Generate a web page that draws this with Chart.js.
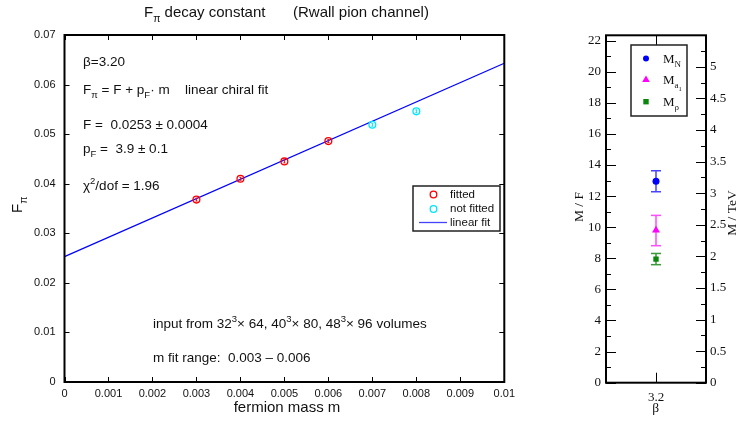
<!doctype html>
<html lang="en">
<head>
<meta charset="utf-8">
<title>F_pi decay constant</title>
<style>
  body { margin: 0; background: #fff; }
  #wrap { position: relative; width: 742px; height: 421px; }
  #fpiChart { position: absolute; left: 0; top: 0; }
  #ratioChart { position: absolute; left: 560px; top: 0; }
</style>
</head>
<body>
<div id="wrap">
  <canvas id="fpiChart" width="520" height="421"></canvas>
  <canvas id="ratioChart" width="182" height="421"></canvas>
</div>
<script src="https://cdn.jsdelivr.net/npm/chart.js@4.4.0/dist/chart.umd.min.js"></script>
<script>
// left panel: F_pi against fermion mass
var massFitted = [0.003, 0.004, 0.005, 0.006];
var fpiFitted = [0.0368, 0.0410, 0.0445, 0.0486];
var massOther = [0.007, 0.008];
var fpiOther = [0.0519, 0.0546];
var fitMass = [0, 0.01];
var fitFpi = [0.0253, 0.0643];
var massTicks = [0, 0.001, 0.002, 0.003, 0.004, 0.005, 0.006, 0.007, 0.008, 0.009, 0.01];
var fpiTicks = [0, 0.01, 0.02, 0.03, 0.04, 0.05, 0.06, 0.07];

// right panel: mass ratios at beta = 3.2
var betaVals = [3.2];
var ratioVals = [12.95, 9.8, 7.95];
var ratioErrLo = [0.67, 0.99, 0.36];
var ratioErrHi = [0.68, 0.96, 0.36];
var ratioTicks = [0, 2, 4, 6, 8, 10, 12, 14, 16, 18, 20, 22];
var tevTicks = [0, 0.5, 1, 1.5, 2, 2.5, 3, 3.5, 4, 4.5, 5];

var SANS = '"Liberation Sans", Arial, sans-serif';
var SERIF = '"Liberation Serif", "Times New Roman", serif';

function drawText(ctx, x, y, parts, family) {
  parts.forEach(function (p) {
    ctx.font = p[1] + 'px ' + family;
    ctx.fillText(p[0], x, y + (p[2] || 0));
    x += ctx.measureText(p[0]).width;
  });
  return x;
}
function seg(ctx, x1, y1, x2, y2) {
  ctx.beginPath(); ctx.moveTo(x1, y1); ctx.lineTo(x2, y2); ctx.stroke();
}
function toXY(xs, ys) {
  return xs.map(function (x, i) { return {x: x, y: ys[i]}; });
}

var fpiDeco = {
  id: 'fpiDeco',
  afterDatasetsDraw: function (chart) {
    // small error marks drawn inside the open circles
    var ctx = chart.ctx;
    ctx.save();
    ctx.lineWidth = 1;
    [0, 1].forEach(function (d) {
      ctx.strokeStyle = chart.data.datasets[d].borderColor;
      chart.getDatasetMeta(d).data.forEach(function (pt) {
        seg(ctx, pt.x, pt.y - 1.5, pt.x, pt.y + 1.5);
        seg(ctx, pt.x - 1, pt.y - 1.5, pt.x + 1, pt.y - 1.5);
        seg(ctx, pt.x - 1, pt.y + 1.5, pt.x + 1, pt.y + 1.5);
      });
    });
    ctx.restore();
  },
  afterDraw: function (chart) {
    var ctx = chart.ctx, a = chart.chartArea;
    var sx = chart.scales.x, sy = chart.scales.y;
    ctx.save();
    ctx.strokeStyle = '#000';
    ctx.lineWidth = 1;
    massTicks.forEach(function (v) {
      var px = Math.round(sx.getPixelForValue(v)) + 0.5;
      seg(ctx, px, a.bottom, px, a.bottom - 5);
      seg(ctx, px, a.top, px, a.top + 5);
    });
    fpiTicks.forEach(function (v) {
      var py = Math.round(sy.getPixelForValue(v)) + 0.5;
      seg(ctx, a.left, py, a.left + 5, py);
      seg(ctx, a.right, py, a.right - 5, py);
    });
    ctx.lineWidth = 2;
    ctx.strokeRect(a.left, a.top, a.right - a.left, a.bottom - a.top);

    ctx.fillStyle = '#111';
    ctx.textBaseline = 'alphabetic';
    ctx.textAlign = 'left';
    // title
    drawText(ctx, 144, 17, [['F', 15], ['\u03c0', 10.5, 5], [' decay constant', 15]], SANS);
    drawText(ctx, 293, 17, [['(Rwall pion channel)', 15]], SANS);
    // annotations
    drawText(ctx, 83, 66, [['\u03b2=3.20', 13.5]], SANS);
    drawText(ctx, 83, 94, [['F', 13.5], ['\u03c0', 9.5, 4], [' = F + p', 13.5], ['F', 9.5, 4], ['\u00b7 m', 13.5]], SANS);
    drawText(ctx, 185, 94, [['linear chiral fit', 13.5]], SANS);
    drawText(ctx, 83, 129, [['F =  0.0253 \u00b1 0.0004', 13.5]], SANS);
    drawText(ctx, 83, 153, [['p', 13.5], ['F', 9.5, 4], [' =  3.9 \u00b1 0.1', 13.5]], SANS);
    drawText(ctx, 83, 190, [['\u03c7', 13.5], ['2', 9.5, -6], ['/dof = 1.96', 13.5]], SANS);
    drawText(ctx, 153, 327.5, [['input from 32', 13.5], ['3', 9.5, -6], ['\u00d7 64, 40', 13.5], ['3', 9.5, -6],
      ['\u00d7 80, 48', 13.5], ['3', 9.5, -6], ['\u00d7 96 volumes', 13.5]], SANS);
    drawText(ctx, 153, 362, [['m fit range:  0.003 \u2013 0.006', 13.5]], SANS);
    // axis titles
    ctx.textAlign = 'center';
    ctx.font = '15px ' + SANS;
    ctx.fillText('fermion mass m', 287, 411.5);
    ctx.textAlign = 'left';
    ctx.save();
    ctx.translate(22, 213);
    ctx.rotate(-Math.PI / 2);
    drawText(ctx, 0, 0, [['F', 15], ['\u03c0', 10.5, 5]], SANS);
    ctx.restore();
    // legend
    ctx.lineWidth = 1.5;
    ctx.strokeStyle = '#222';
    ctx.strokeRect(413, 186, 87, 45);
    ctx.lineWidth = 1.3;
    ctx.strokeStyle = '#ff0000';
    ctx.beginPath(); ctx.arc(433.5, 194.5, 3.3, 0, Math.PI * 2); ctx.stroke();
    ctx.strokeStyle = '#00e5ff';
    ctx.beginPath(); ctx.arc(433.5, 209, 3.3, 0, Math.PI * 2); ctx.stroke();
    ctx.strokeStyle = '#4444ff';
    ctx.lineWidth = 1.3;
    seg(ctx, 419, 222.5, 447, 222.5);
    ctx.textBaseline = 'middle';
    ctx.font = '11.5px ' + SANS;
    ctx.fillText('fitted', 450, 194.5);
    ctx.fillText('not fitted', 450, 209);
    ctx.fillText('linear fit', 450, 222.5);
    ctx.restore();
  }
};

new Chart(document.getElementById('fpiChart'), {
  type: 'scatter',
  data: {
    datasets: [
      {label: 'fitted', data: toXY(massFitted, fpiFitted), pointStyle: 'circle', pointRadius: 3.4,
        borderColor: '#ff0000', backgroundColor: 'rgba(0,0,0,0)', borderWidth: 1.3},
      {label: 'not fitted', data: toXY(massOther, fpiOther), pointStyle: 'circle', pointRadius: 3.4,
        borderColor: '#00e5ff', backgroundColor: 'rgba(0,0,0,0)', borderWidth: 1.3},
      {label: 'linear fit', type: 'line', data: toXY(fitMass, fitFpi), borderColor: '#0000ff',
        borderWidth: 1.2, pointRadius: 0, fill: false}
    ]
  },
  options: {
    responsive: false, animation: false, devicePixelRatio: 1,
    layout: {padding: {top: 35, right: 15.5, left: 0, bottom: 0}},
    plugins: {legend: {display: false}, tooltip: {enabled: false}},
    scales: {
      x: {
        type: 'linear', min: 0, max: 0.01,
        grid: {display: false, drawTicks: false}, border: {display: false},
        afterBuildTicks: function (s) { s.ticks = massTicks.map(function (v) { return {value: v}; }); },
        afterFit: function (s) { s.height = 39; },
        ticks: {autoSkip: false, maxRotation: 0, padding: 5, color: '#111', font: {family: SANS, size: 11},
          callback: function (v) { return String(+v.toFixed(4)); }}
      },
      y: {
        type: 'linear', min: 0, max: 0.07,
        grid: {display: false, drawTicks: false}, border: {display: false},
        afterBuildTicks: function (s) { s.ticks = fpiTicks.map(function (v) { return {value: v}; }); },
        afterFit: function (s) { s.width = 64.5; },
        ticks: {padding: 9, color: '#111', font: {family: SANS, size: 11},
          callback: function (v) { return String(+v.toFixed(3)); }}
      }
    }
  },
  plugins: [fpiDeco]
});

var ratioColors = ['#0000ff', '#ff00ff', '#0a870a'];
var ratioBarColors = ['#4545ff', '#ff4dff', '#3a9a3a'];

var ratioDeco = {
  id: 'ratioDeco',
  beforeDatasetsDraw: function (chart) {
    var ctx = chart.ctx, sx = chart.scales.x, sy = chart.scales.y;
    ctx.save();
    ctx.lineWidth = 1.5;
    ratioVals.forEach(function (v, i) {
      var px = sx.getPixelForValue(betaVals[0]);
      var top = sy.getPixelForValue(v + ratioErrHi[i]);
      var bot = sy.getPixelForValue(v - ratioErrLo[i]);
      ctx.strokeStyle = ratioBarColors[i];
      seg(ctx, px, top, px, bot);
      seg(ctx, px - 5, top, px + 5, top);
      seg(ctx, px - 5, bot, px + 5, bot);
    });
    ctx.restore();
  },
  afterDraw: function (chart) {
    var ctx = chart.ctx, a = chart.chartArea;
    var sx = chart.scales.x, sy = chart.scales.y, sy2 = chart.scales.y2;
    ctx.save();
    ctx.strokeStyle = '#000';
    ctx.lineWidth = 1;
    ratioTicks.forEach(function (v, i) {
      var py = Math.round(sy.getPixelForValue(v)) + 0.5;
      seg(ctx, a.left, py, a.left + 10, py);
      if (i < ratioTicks.length - 1) {
        var pm = Math.round(sy.getPixelForValue((v + ratioTicks[i + 1]) / 2)) + 0.5;
        seg(ctx, a.left, pm, a.left + 5, pm);
      }
    });
    tevTicks.forEach(function (v, i) {
      var py = Math.round(sy2.getPixelForValue(v)) + 0.5;
      seg(ctx, a.right, py, a.right - 10, py);
      var next = i < tevTicks.length - 1 ? tevTicks[i + 1] : v + 0.5;
      var pm = Math.round(sy2.getPixelForValue((v + next) / 2)) + 0.5;
      seg(ctx, a.right, pm, a.right - 5, pm);
    });
    var bx = Math.round(sx.getPixelForValue(betaVals[0])) + 0.5;
    seg(ctx, bx, a.bottom, bx, a.bottom - 10);
    seg(ctx, bx, a.top, bx, a.top + 10);
    ctx.lineWidth = 2;
    ctx.strokeRect(a.left, a.top, a.right - a.left, a.bottom - a.top);

    // legend
    ctx.lineWidth = 1.5;
    ctx.strokeStyle = '#222';
    ctx.fillStyle = '#fff';
    ctx.fillRect(71, 45, 56, 71);
    ctx.strokeRect(71, 45, 56, 71);
    ctx.fillStyle = ratioColors[0];
    ctx.beginPath(); ctx.arc(86, 58.5, 3, 0, Math.PI * 2); ctx.fill();
    ctx.fillStyle = ratioColors[1];
    ctx.beginPath(); ctx.moveTo(86, 75.5); ctx.lineTo(89.8, 82); ctx.lineTo(82.2, 82); ctx.closePath(); ctx.fill();
    ctx.fillStyle = ratioColors[2];
    ctx.fillRect(83.3, 99, 5.4, 5.4);
    ctx.fillStyle = '#111';
    ctx.textAlign = 'left';
    ctx.textBaseline = 'alphabetic';
    drawText(ctx, 103, 62.5, [['M', 13], ['N', 9, 4]], SERIF);
    var xe = drawText(ctx, 103, 84, [['M', 13], ['a', 9, 4]], SERIF);
    drawText(ctx, xe, 91, [['1', 6.5]], SERIF);
    drawText(ctx, 103, 105.5, [['M', 13], ['\u03c1', 9, 4]], SERIF);
    // axis titles
    ctx.textAlign = 'center';
    ctx.font = '13.5px ' + SERIF;
    ctx.fillText('\u03b2', 95.7, 412);
    ctx.save();
    ctx.translate(23, 207);
    ctx.rotate(-Math.PI / 2);
    ctx.fillText('M / F', 0, 0);
    ctx.restore();
    ctx.save();
    ctx.translate(176, 213);
    ctx.rotate(-Math.PI / 2);
    ctx.fillText('M / TeV', 0, 0);
    ctx.restore();
    ctx.restore();
  }
};

new Chart(document.getElementById('ratioChart'), {
  type: 'scatter',
  data: {
    datasets: [
      {label: 'M_N', data: toXY(betaVals, [ratioVals[0]]), pointStyle: 'circle', pointRadius: 3.5,
        backgroundColor: ratioColors[0], borderColor: ratioColors[0], borderWidth: 0},
      {label: 'M_a1', data: toXY(betaVals, [ratioVals[1]]), pointStyle: 'triangle', pointRadius: 4.6,
        backgroundColor: ratioColors[1], borderColor: ratioColors[1], borderWidth: 0},
      {label: 'M_rho', data: toXY(betaVals, [ratioVals[2]]), pointStyle: 'rect', pointRadius: 3.8,
        backgroundColor: ratioColors[2], borderColor: ratioColors[2], borderWidth: 0}
    ]
  },
  options: {
    responsive: false, animation: false, devicePixelRatio: 1,
    layout: {padding: {top: 35.3, right: 0, left: 0, bottom: 0}},
    plugins: {legend: {display: false}, tooltip: {enabled: false}},
    scales: {
      x: {
        type: 'linear', min: 3.1, max: 3.3,
        grid: {display: false, drawTicks: false}, border: {display: false},
        afterBuildTicks: function (s) { s.ticks = betaVals.map(function (v) { return {value: v}; }); },
        afterFit: function (s) { s.height = 38.3; },
        ticks: {padding: 7, color: '#111', font: {family: SERIF, size: 13},
          callback: function (v) { return String(v); }}
      },
      y: {
        type: 'linear', position: 'left', min: 0, max: 22.34,
        grid: {display: false, drawTicks: false}, border: {display: false},
        afterBuildTicks: function (s) { s.ticks = ratioTicks.map(function (v) { return {value: v}; }); },
        afterFit: function (s) { s.width = 46; },
        ticks: {padding: 5, color: '#111', font: {family: SERIF, size: 13},
          callback: function (v) { return String(v); }}
      },
      y2: {
        type: 'linear', position: 'right', min: 0, max: 5.5,
        grid: {display: false, drawTicks: false}, border: {display: false},
        afterBuildTicks: function (s) { s.ticks = tevTicks.map(function (v) { return {value: v}; }); },
        afterFit: function (s) { s.width = 36; },
        ticks: {padding: 4, color: '#111', font: {family: SERIF, size: 13},
          callback: function (v) { return String(v); }}
      }
    }
  },
  plugins: [ratioDeco]
});
</script>
</body>
</html>
